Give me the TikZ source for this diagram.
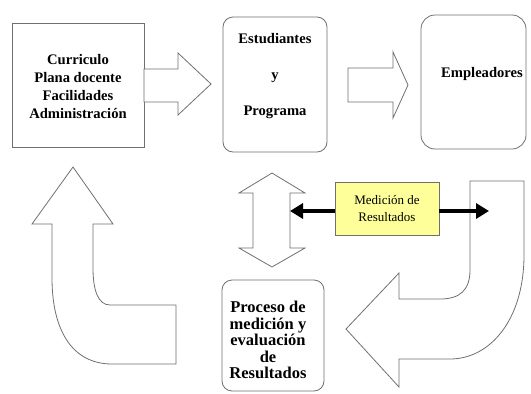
\documentclass[tikz,border=0pt]{standalone}
\usepackage{fontspec}
\setmainfont{Liberation Serif}
\usetikzlibrary{arrows.meta}
\definecolor{edge}{HTML}{707070}
\definecolor{note}{HTML}{FFFF99}
\tikzset{
  boxline/.style={draw=edge,line width=0.8pt},
  sqbox/.style={boxline,fill=white,inner sep=0pt},
  rbox/.style={boxline,fill=white,rounded corners=#1},
  blockarrow/.style={boxline,fill=white,line join=miter},
  bigtxt/.style={font=\fontsize{14.6}{18}\selectfont\bfseries,align=center},
  midtxt/.style={font=\fontsize{16.5}{16.5}\selectfont\bfseries,align=center},
  smalltxt/.style={font=\fontsize{13}{17}\selectfont,align=center},
  thickarrow/.style={line width=4.5pt,black,-{Triangle[length=13pt,width=15pt]}}
}
\begin{document}
\begin{tikzpicture}[x=1pt,y=-1pt]
\useasboundingbox (0,0) rectangle (531,394);
\fill[white] (0,0) rectangle (531,394);

% boxes
\draw[sqbox] (12,23) rectangle (144,147);
\node[bigtxt] (curr) at (78,87) {Curriculo\\Plana docente\\Facilidades\\Administración};

\draw[rbox=10pt] (223,17) rectangle (327,152);
\node[bigtxt,font=\fontsize{14.6}{36}\selectfont\bfseries] (est) at (275,76) {Estudiantes\\y\\Programa};

\draw[rbox=14pt] (421,15) rectangle (526,149);
\node[bigtxt] (emp) at (482,74) {Empleadores};

\draw[rbox=10pt] (222,280) rectangle (324,391);
\node[midtxt] (proc) at (268,340) {Proceso de\\medición y\\evaluación\\de\\Resultados};

% block arrows
\draw[blockarrow] (144,69) -- (178,69) -- (178,53) -- (211,84) -- (178,115) -- (178,102) -- (144,102) -- cycle;
\draw[blockarrow] (348,68) -- (393,68) -- (393,52) -- (408,85) -- (393,118) -- (393,102) -- (348,102) -- cycle;

% vertical double arrow
\draw[blockarrow] (272,173) -- (305,193) -- (290,193) -- (290,248) -- (305,248) -- (272,267)
  -- (239,248) -- (253,248) -- (253,193) -- (239,193) -- cycle;

% bent up arrow (left)
\draw[blockarrow] (176,305) -- (110,305) .. controls (98,305) and (93,290) .. (93,268)
  -- (93,224) -- (113,224) -- (73,167) -- (32,224) -- (52,224) -- (52,278)
  .. controls (52,330) and (72,364) .. (112,364) -- (176,364) -- cycle;

% bent down-left arrow (right)
\draw[blockarrow] (470,181) -- (524,181) -- (524,255) .. controls (524,320) and (490,359) .. (450,359)
  -- (399,359) -- (399,387) -- (346,329) -- (399,273) -- (399,299) -- (440,299)
  .. controls (460,299) and (470,290) .. (470,270) -- cycle;

% yellow note
\node[draw=edge,line width=0.8pt,fill=note,minimum width=104pt,minimum height=53pt,inner sep=0pt,smalltxt]
  (med) at (387,209) {Medición de\\Resultados};

\coordinate (lt) at (290,211);
\coordinate (rt) at (489,211);
\draw[thickarrow] (med.west |- lt) -- (lt);
\draw[thickarrow] (med.east |- rt) -- (rt);
\end{tikzpicture}
\end{document}
